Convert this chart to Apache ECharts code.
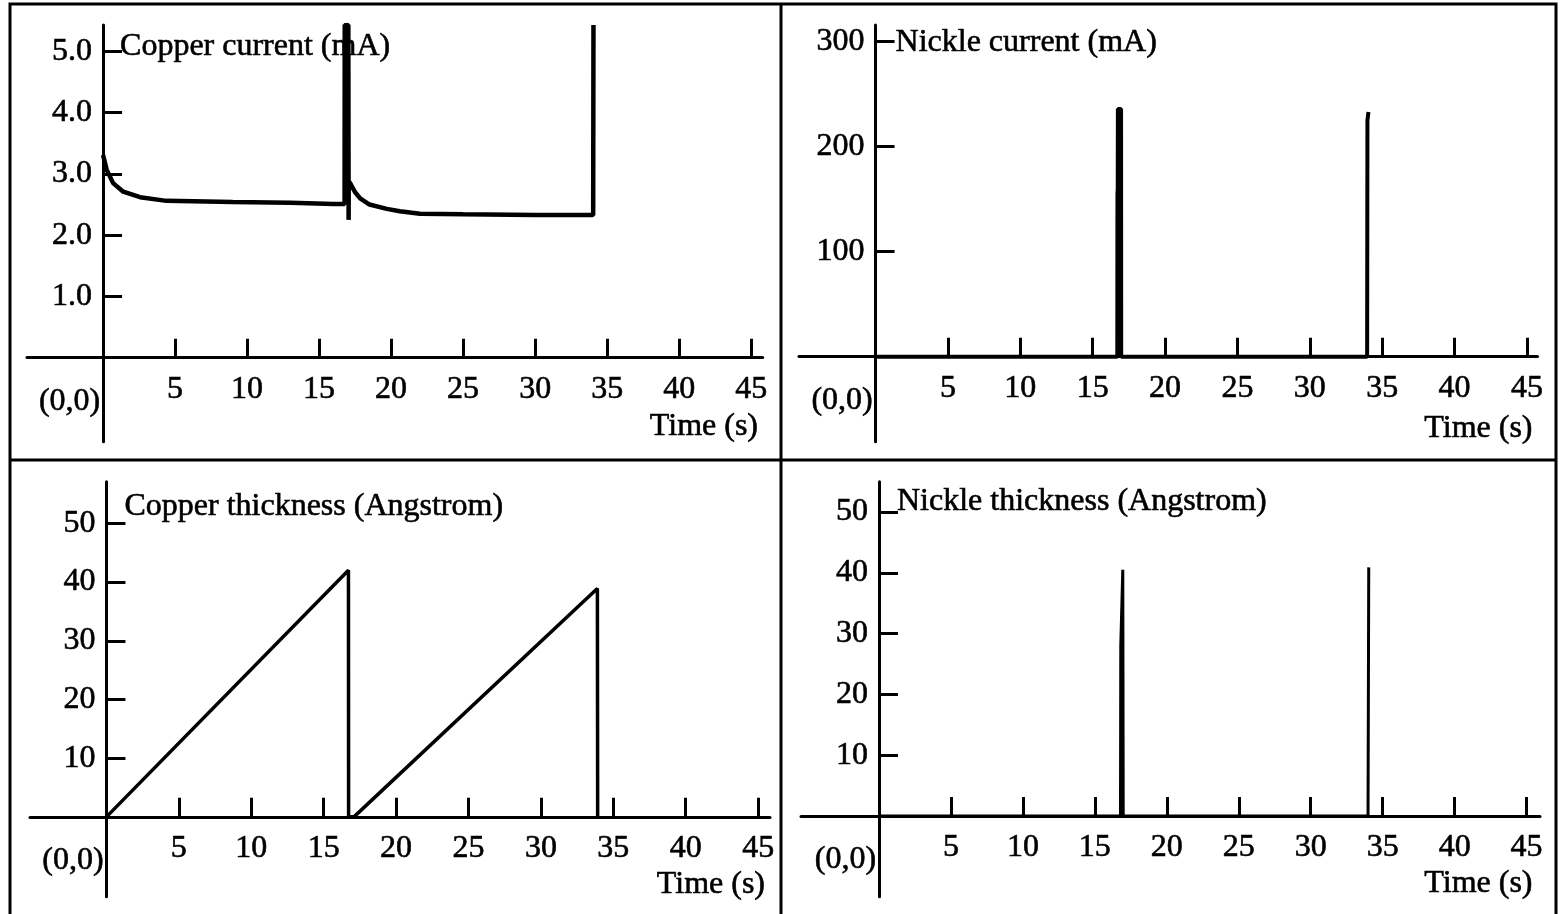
<!DOCTYPE html>
<html>
<head>
<meta charset="utf-8">
<script src="https://cdn.jsdelivr.net/npm/echarts@6/dist/echarts.min.js"></script>
<style>
html,body{margin:0;padding:0;background:#fff;}
#chart{width:1565px;height:914px;}
</style>
</head>
<body>
<div id="chart"></div>
<script>
// ---------- data ----------
const xTickValues = [5, 10, 15, 20, 25, 30, 35, 40, 45];
const xLabelValues = [0, 5, 10, 15, 20, 25, 30, 35, 40, 45];

const titles = ['Copper current (mA)', 'Nickle current (mA)', 'Copper thickness (Angstrom)', 'Nickle thickness (Angstrom)'];
const xName = 'Time (s)';
const originLabel = '(0,0)';

const cuCurrentTicks = [1.0, 2.0, 3.0, 4.0, 5.0];
const niCurrentTicks = [100, 200, 300];
const cuThickTicks = [10, 20, 30, 40, 50];
const niThickTicks = [10, 20, 30, 40, 50];

const cuCurrentTime  = [0, 0.25, 0.7, 1.4, 2.57, 4.4, 9.0, 13.0, 16.0, 16.77, 16.78, 17.03, 17.05, 17.06, 17.2, 17.5, 17.85, 18.5, 19.7, 20.6, 22.0, 25.0, 30.0, 34.03, 34.05];
const cuCurrentValue = [3.31, 3.07, 2.85, 2.71, 2.62, 2.56, 2.54, 2.53, 2.51, 2.51, 5.43, 5.43, 2.25, 2.88, 2.83, 2.70, 2.60, 2.50, 2.43, 2.39, 2.35, 2.34, 2.33, 2.33, 5.43];

const niCurrentTime  = [0, 16.70, 16.71, 16.73, 16.74, 16.96, 16.97, 33.96, 33.98, 34.05];
const niCurrentValue = [0, 0, 155, 160, 236, 236, 0, 0, 225, 233];

const cuThickTime  = [0, 16.71, 16.72, 17.09, 33.90, 33.92];
const cuThickValue = [0, 42.0, 0, 0, 38.9, 0];

const niThickTime  = [0, 16.78, 16.80, 16.94, 16.97, 33.98, 34.03];
const niThickValue = [0, 0, 28, 40.5, 0, 0, 40.9];

// ---------- helpers ----------
const W = 1565, H = 914;
const FONT = '"Liberation Serif", "Times New Roman", "DejaVu Serif", serif';
const TXT = { color: '#000', fontFamily: FONT, fontSize: 32, textBorderColor: '#000', textBorderWidth: 0.6 };
const pairs = (t, v) => t.map((x, i) => [x, v[i]]);

// panel layout: grid box + axis ranges (axes cross at 0,0 inside the box)
const panels = [
  { left: 27,  right: 802.3, top: 25,    bottom: 472.3, xmin: -5.28, xmax: 45.8,  ymin: -1.37, ymax: 5.43,  ticks: cuCurrentTicks, fmt: v => v.toFixed(1), title: titles[0], tPad: [6, 0, 0, 17], nGap: -4.7, nPad: 53, lw: 4.5, data: pairs(cuCurrentTime, cuCurrentValue) },
  { left: 799, right: 27.5,  top: 25,    bottom: 472.3, xmin: -5.29, xmax: 45.73, ymin: -81,   ymax: 315.9, ticks: niCurrentTicks, fmt: v => String(v),  title: titles[1], tPad: [2, 0, 0, 20], nGap: -5,   nPad: 56, lw: 4, data: pairs(niCurrentTime, niCurrentValue) },
  { left: 30,  right: 795,   top: 481.7, bottom: 17.3,  xmin: -5.28, xmax: 45.82, ymin: -13.6, ymax: 57.1,  ticks: cuThickTicks,   fmt: v => String(v),  title: titles[2], tPad: [9, 0, 0, 18], nGap: -5,   nPad: 52, lw: 3.5, data: pairs(cuThickTime, cuThickValue) },
  { left: 801, right: 25,    top: 481.7, bottom: 17.3,  xmin: -5.42, xmax: 45.93, ymin: -13.3, ymax: 55.0,  ticks: niThickTicks,   fmt: v => String(v),  title: titles[3], tPad: [4, 0, 0, 18], nGap: -7.5, nPad: 52, lw: 3, data: pairs(niThickTime, niThickValue) }
];

const grids = [], xAxes = [], yAxes = [], series = [];
panels.forEach((p, i) => {
  const gw = W - p.left - p.right, gh = H - p.top - p.bottom;
  const xOff = -(-p.ymin) / (p.ymax - p.ymin) * gh;   // move bottom x-axis up to y = 0
  const yOff = -(-p.xmin) / (p.xmax - p.xmin) * gw;   // move left y-axis right to x = 0
  grids.push({ left: p.left, right: p.right, top: p.top, bottom: p.bottom, containLabel: false, outerBoundsMode: 'none', show: false });
  xAxes.push({
    type: 'value', gridIndex: i, min: p.xmin, max: p.xmax, position: 'bottom', offset: xOff,
    axisLine: { show: true, onZero: false, lineStyle: { color: '#000', width: 3 } },
    axisTick: { show: true, inside: true, length: 19, customValues: xTickValues, lineStyle: { color: '#000', width: 3 } },
    axisLabel: Object.assign({
      show: true, customValues: xLabelValues, margin: 16, hideOverlap: false,
      formatter: v => v === 0 ? '{o|' + originLabel + '}' : String(v),
      rich: { o: Object.assign({}, TXT, { padding: [12, 67, 0, 0] }) }
    }, TXT),
    splitLine: { show: false },
    name: xName, nameLocation: 'end', nameGap: p.nGap,
    nameTextStyle: Object.assign({ align: 'right', verticalAlign: 'top', padding: [p.nPad, 0, 0, 0] }, TXT)
  });
  yAxes.push({
    type: 'value', gridIndex: i, min: p.ymin, max: p.ymax, position: 'left', offset: yOff,
    axisLine: { show: true, onZero: false, lineStyle: { color: '#000', width: 3 } },
    axisTick: { show: true, inside: true, length: 19, customValues: p.ticks, lineStyle: { color: '#000', width: 3 } },
    axisLabel: Object.assign({ show: true, customValues: p.ticks, margin: 11, hideOverlap: false, formatter: p.fmt }, TXT),
    splitLine: { show: false },
    name: p.title, nameLocation: 'end', nameGap: 0,
    nameTextStyle: Object.assign({ align: 'left', verticalAlign: 'top', padding: p.tPad }, TXT)
  });
  series.push({
    type: 'line', xAxisIndex: i, yAxisIndex: i, data: p.data, showSymbol: false, symbol: 'none',
    lineStyle: { color: '#000', width: p.lw }, animation: false, silent: true, z: 3
  });
});

const chart = echarts.init(document.getElementById('chart'), null, { renderer: 'canvas' });
chart.setOption({
  backgroundColor: '#fff',
  animation: false,
  grid: grids,
  xAxis: xAxes,
  yAxis: yAxes,
  series: series,
  graphic: [
    { type: 'rect', shape: { x: 10, y: 4, width: 1546, height: 960 }, style: { fill: 'none', stroke: '#000', lineWidth: 3 }, silent: true },
    { type: 'line', shape: { x1: 781, y1: 4, x2: 781, y2: 914 }, style: { stroke: '#000', lineWidth: 3 }, silent: true },
    { type: 'line', shape: { x1: 10, y1: 460, x2: 1556, y2: 460 }, style: { stroke: '#000', lineWidth: 3 }, silent: true }
  ]
});
</script>
</body>
</html>
